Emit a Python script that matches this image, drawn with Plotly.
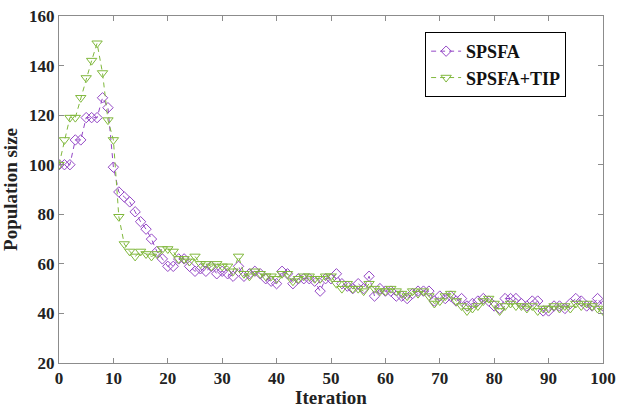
import plotly.graph_objects as go

iterations = list(range(0, 101))

spsfa = [100, 100, 100, 110, 110, 119, 119, 119, 127, 123,
         99, 89, 87, 85, 81, 77, 74, 70, 65, 62,
         59, 59, 62, 62, 59, 57, 58, 57, 59, 56,
         57, 56, 55, 59, 55, 56, 57, 56, 54, 53,
         52, 57, 56, 52, 54, 54, 54, 53, 49, 54,
         54, 56, 52, 51, 50, 52, 50, 55, 47, 50,
         49, 49, 47, 47, 46, 48, 49, 49, 49, 45,
         47, 46, 47, 45, 46, 43, 44, 45, 46, 45,
         43, 42, 46, 46, 46, 44, 43, 45, 45, 41,
         41, 43, 43, 42, 44, 46, 45, 43, 43, 46, 43]

spsfa_tip = [100, 110, 119, 119, 127, 135, 142, 149, 137, 118,
             110, 79, 68, 65, 63, 65, 64, 63, 64, 66,
             66, 65, 62, 62, 61, 63, 60, 60, 59, 60,
             59, 59, 57, 63, 56, 55, 57, 56, 55, 55,
             54, 56, 56, 53, 54, 55, 55, 54, 54, 55,
             55, 52, 50, 52, 50, 50, 49, 52, 50, 49,
             49, 50, 49, 48, 47, 49, 48, 49, 47, 44,
             45, 47, 48, 45, 43, 41, 42, 43, 45, 46,
             44, 41, 43, 44, 43, 43, 42, 43, 41, 42,
             42, 43, 42, 43, 42, 44, 43, 44, 43, 42, 41]

x_ticks = [0, 10, 20, 30, 40, 50, 60, 70, 80, 90, 100]
y_ticks = [20, 40, 60, 80, 100, 120, 140, 160]

purple = "#9447C6"
green = "#80B83C"
font_family = "Times New Roman, Liberation Serif, serif"

fig = go.Figure()
fig.add_trace(go.Scatter(
    x=iterations, y=spsfa, name="<b>SPSFA</b>", mode="lines+markers",
    line=dict(color=purple, width=1, dash="5px,4px"),
    marker=dict(symbol="diamond-open", size=8, color=purple, line=dict(width=1, color=purple)),
))
fig.add_trace(go.Scatter(
    x=iterations, y=spsfa_tip, name="<b>SPSFA+TIP</b>", mode="lines+markers",
    line=dict(color=green, width=1, dash="5px,4px"),
    marker=dict(symbol="triangle-down-open", size=9, color=green, line=dict(width=1, color=green)),
))

axis_common = dict(
    showgrid=False, zeroline=False, showline=True, linecolor="#8c8c8c", linewidth=1,
    mirror="ticks", ticks="inside", ticklen=5, tickcolor="#8c8c8c", automargin=False,
    tickfont=dict(family=font_family, size=17, color="#222222", weight="bold"),
)

fig.update_layout(
    width=618, height=408,
    margin=dict(l=59, r=15, t=16, b=45),
    paper_bgcolor="white", plot_bgcolor="white",
    font=dict(family=font_family, color="#222222", size=17),
    showlegend=True,
    legend=dict(
        x=0.673, y=0.954, xanchor="left", yanchor="top",
        bgcolor="white", bordercolor="black", borderwidth=1,
        font=dict(family=font_family, size=18, color="#111111"),
        tracegroupgap=0,
    ),
    xaxis=dict(range=[0, 100], tickvals=x_ticks,
               title=dict(text="<b>Iteration</b>", font=dict(family=font_family, size=19), standoff=0),
               **axis_common),
    yaxis=dict(range=[20, 160], tickvals=y_ticks,
               title=dict(text="<b>Population size</b>", font=dict(family=font_family, size=19), standoff=6),
               **axis_common),
)

fig.write_html("out.html", config={"displayModeBar": False},
               post_script="document.body.style.margin='0';document.body.style.padding='0';")
